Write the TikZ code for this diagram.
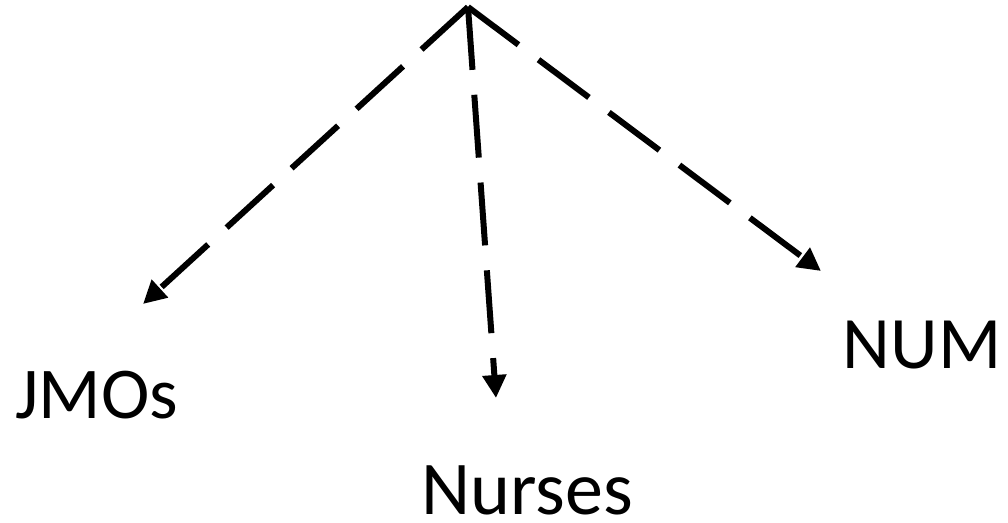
\documentclass[tikz,border=0pt]{standalone}
\usepackage{fontspec}
\setmainfont{Carlito}
\usetikzlibrary{arrows.meta}
\tikzset{
  link/.style={line width=6pt, dash pattern=on 63pt off 25pt,
    -{Triangle[length=23pt,width=23pt]}},
  lab/.style={inner sep=0pt, anchor=base}
}
\begin{document}
\begin{tikzpicture}[x=1pt,y=-1pt]
\useasboundingbox (0,0) rectangle (1008,522);
\coordinate (top) at (468,7);
\coordinate (tj) at (143,304);
\coordinate (tn) at (496,398);
\coordinate (tm) at (821,271);
\node[lab, font=\fontsize{73}{82}\selectfont] (jmo) at (97,418) {JMOs};
\node[lab, font=\fontsize{76}{86}\selectfont] (nur) at (527,514) {Nurses};
\node[lab, font=\fontsize{74}{83}\selectfont] (num) at (922,368) {NUM};
\draw[link] (top) -- (tj);
\draw[link] (top) -- (tn);
\draw[link] (top) -- (tm);
\end{tikzpicture}
\end{document}
